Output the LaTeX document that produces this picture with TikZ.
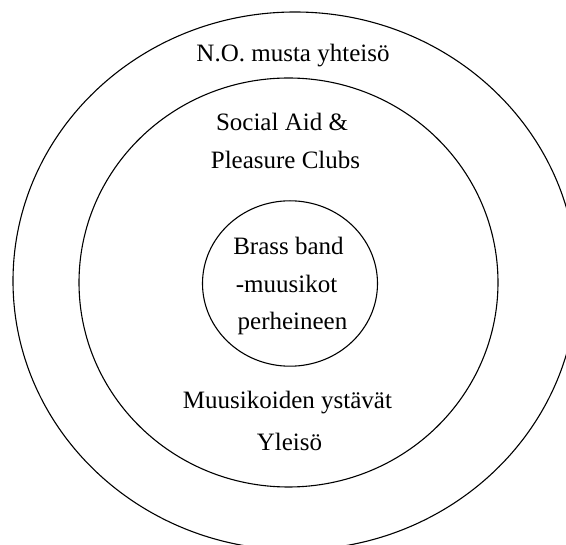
\documentclass[tikz,border=0pt]{standalone}
\usepackage{fontspec}
\setmainfont{Liberation Serif}

\begin{document}
\begin{tikzpicture}[
      x=1pt, y=-1pt,
      ring/.style={line width=1.1pt},
      ringtext/.style={anchor=base, inner sep=0pt, font=\fontsize{25}{30}\selectfont}
    ]
    \clip (0, 0) rectangle (566, 545);
    \coordinate (Outer) at (295, 281);
    \coordinate (Middle) at (288.5, 282.5);
    \coordinate (Inner) at (290, 283.5);
    \draw[ring] (Outer) ellipse [x radius=282, y radius=269];
    \draw[ring] (Middle) ellipse [x radius=209.5, y radius=204.5];
    \draw[ring] (Inner) ellipse [x radius=87.5, y radius=82.7];
    \foreach \name/\x/\y/\txt in {
        community/293/62/{N.O. musta yhteisö},
        clubsA/282/131/{Social Aid \&},
        clubsB/285.5/169/{Pleasure Clubs},
        bandA/288.5/255/{Brass band},
        bandB/286.5/293/{-muusikot},
        bandC/292.5/330/{perheineen},
        friends/287.5/409/{Muusikoiden ystävät},
        audience/289.5/451/{Yleisö}} {
      \node[ringtext] (\name) at (\x, \y) {\txt};
    }
    \end{tikzpicture}
\end{document}
